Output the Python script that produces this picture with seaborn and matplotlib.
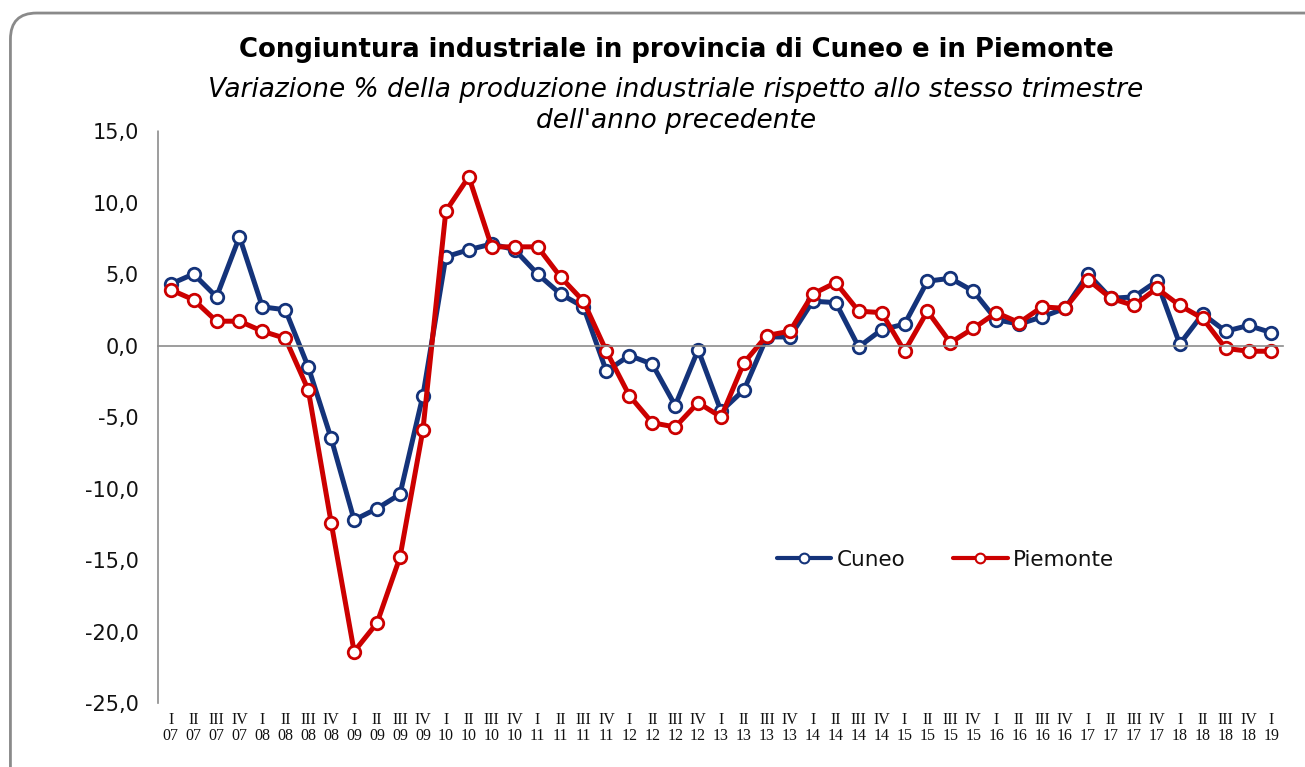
import numpy as np
import pandas as pd
import matplotlib
matplotlib.use("Agg")
import matplotlib.pyplot as plt
import seaborn as sns
from matplotlib.patches import FancyBboxPatch
from matplotlib.lines import Line2D
from matplotlib.ticker import FixedLocator, FuncFormatter

# Quarter / year labels (I 07 ... I 19)
quarters = ["I", "II", "III", "IV"] * 12 + ["I"]
years = ["07"] * 4 + ["08"] * 4 + ["09"] * 4 + ["10"] * 4 + ["11"] * 4 + ["12"] * 4 \
    + ["13"] * 4 + ["14"] * 4 + ["15"] * 4 + ["16"] * 4 + ["17"] * 4 + ["18"] * 4 + ["19"]

# % change of industrial production vs same quarter of previous year
cuneo = [4.3, 5.0, 3.4, 7.6, 2.7, 2.5, -1.5, -6.5, -12.2, -11.4, -10.4, -3.5,
         6.2, 6.7, 7.1, 6.7, 5.0, 3.6, 2.7, -1.8, -0.7, -1.3, -4.2, -0.3,
         -4.6, -3.1, 0.6, 0.6, 3.1, 3.0, -0.1, 1.1, 1.5, 4.5, 4.7, 3.8,
         1.8, 1.5, 2.0, 2.6, 5.0, 3.3, 3.4, 4.5, 0.1, 2.2, 1.0, 1.4, 0.9]
piemonte = [3.9, 3.2, 1.7, 1.7, 1.0, 0.5, -3.1, -12.4, -21.4, -19.4, -14.8, -5.9,
            9.4, 11.8, 6.9, 6.9, 6.9, 4.8, 3.1, -0.4, -3.5, -5.4, -5.7, -4.0,
            -5.0, -1.2, 0.7, 1.0, 3.6, 4.4, 2.4, 2.3, -0.4, 2.4, 0.2, 1.2,
            2.3, 1.6, 2.7, 2.6, 4.6, 3.3, 2.8, 4.0, 2.8, 1.9, -0.2, -0.4, -0.4]

series = {"Cuneo": cuneo, "Piemonte": piemonte}
colors = {"Cuneo": "#14337a", "Piemonte": "#cc0000"}

sns.set_style("white")
plt.rcParams["font.family"] = ["DejaVu Sans"]

fig = plt.figure(figsize=(13.05, 7.67), dpi=100)
ax = fig.add_axes([0.1211, 0.0834, 0.862, 0.7458])

# rounded chart border
fig.patches.append(FancyBboxPatch((0.008, -0.05), 1.05, 1.033,
                                  boxstyle="round,pad=0,rounding_size=0.02",
                                  transform=fig.transFigure, facecolor="none",
                                  edgecolor="#8a8a8a", linewidth=2, zorder=0,
                                  mutation_aspect=1305 / 767))

for name, vals in series.items():
    sns.lineplot(x=np.arange(len(vals)), y=vals, color=colors[name],
                 marker="o", markersize=9, markerfacecolor="white",
                 markeredgecolor=colors[name], markeredgewidth=2.0,
                 linewidth=3.6, ax=ax)

ax.set_xlim(-0.55, 48.5)
ax.set_ylim(-25, 15)

# axes styling: zero line as x axis, dotted grey
for s in ["top", "right"]:
    ax.spines[s].set_visible(False)
ax.spines["bottom"].set_position(("data", 0))
for s in ["bottom", "left"]:
    ax.spines[s].set_color("#8c8c8c")
    ax.spines[s].set_linestyle((0, (1, 1)))
    ax.spines[s].set_linewidth(1.2)

ax.set_yticks(np.arange(-25, 16, 5))
ax.yaxis.set_major_formatter(FuncFormatter(lambda v, p: f"{v:.1f}".replace(".", ",")))
ax.tick_params(axis="y", direction="out", length=4, color="#8c8c8c",
               labelsize=15, labelcolor="#111111", pad=10)

ax.set_xticks(range(len(quarters)))
ax.set_xticklabels([f"{q}\n{y}" for q, y in zip(quarters, years)],
                   family="Liberation Serif", fontsize=11.5, linespacing=0.95)
ax.xaxis.set_minor_locator(FixedLocator(np.arange(0.5, 48, 1)))
ax.tick_params(axis="x", which="major", length=0, pad=264, labelcolor="#111111")
ax.tick_params(axis="x", which="minor", direction="out", length=4, color="#8c8c8c")

handles = [Line2D([], [], color=colors[n], linewidth=3, marker="o", markersize=7,
                  markerfacecolor="white", markeredgecolor=colors[n],
                  markeredgewidth=1.5) for n in series]
ax.legend(handles, list(series), loc="center", bbox_to_anchor=(0.70, 0.25), ncol=2,
          frameon=False, fontsize=15.5, handlelength=2.55, columnspacing=2.2,
          handletextpad=0.25, labelcolor="#111111")

fig.text(0.518, 0.935, "Congiuntura industriale in provincia di Cuneo e in Piemonte",
         ha="center", va="center", fontsize=18.7, fontweight="bold", color="black")
fig.text(0.518, 0.863, "Variazione % della produzione industriale rispetto allo stesso trimestre\ndell'anno precedente",
         ha="center", va="center", fontsize=19, style="italic", linespacing=1.25,
         color="black")

fig.savefig("out.png", dpi=100)
